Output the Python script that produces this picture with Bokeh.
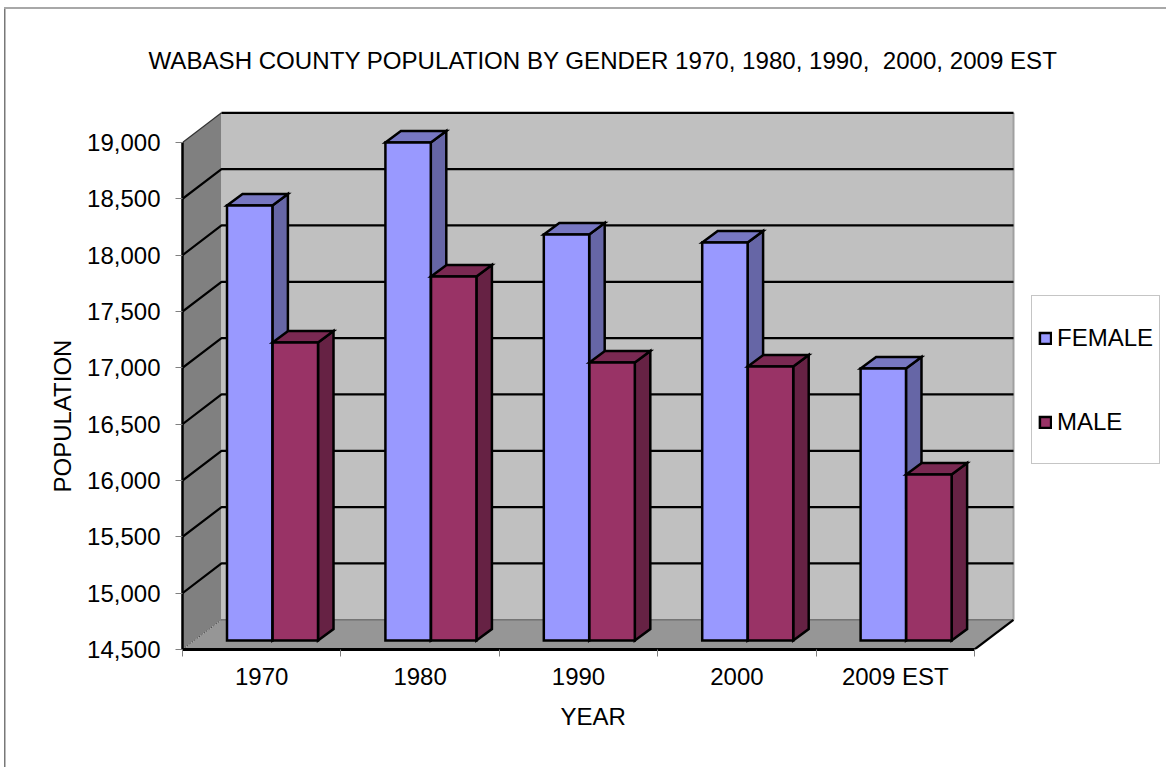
from bokeh.plotting import figure
from bokeh.models import (FixedTicker, NumeralTickFormatter, Legend, LegendItem, Title, Range1d)
from bokeh.embed import file_html
from bokeh.resources import INLINE

title_text = "WABASH COUNTY POPULATION BY GENDER 1970, 1980, 1990, \u00a02000, 2009 EST"
x_title = "YEAR"
y_title = "POPULATION"
categories = ["1970", "1980", "1990", "2000", "2009 EST"]
series_names = ["FEMALE", "MALE"]
female = [18361, 18920, 18103, 18032, 16914]
male = [17145, 17731, 16967, 16932, 15973]
y_ticks = [14500, 15000, 15500, 16000, 16500, 17000, 17500, 18000, 18500, 19000]

W, H = 1166, 767
LEFT, TOP, BOTTOM_Y = 182, 95, 649
CAT_PX = 158.4
PX_PER_UNIT = 507 / 4500
Y0 = y_ticks[0]
FONT = "Liberation Sans"

def dx(px):
    return px / CAT_PX
def dy(px):
    return px / PX_PER_UNIT

p = figure(width=W, height=H, output_backend="svg", toolbar_location=None,
           x_range=Range1d(0, (W - LEFT) / CAT_PX),
           y_range=Range1d(Y0, Y0 + (BOTTOM_Y - TOP) / PX_PER_UNIT),
           min_border_left=LEFT, min_border_right=0, min_border_top=TOP,
           min_border_bottom=H - BOTTOM_Y, outline_line_color=None,
           background_fill_color=None, border_fill_color=None)
p.grid.visible = False
# outer chart border (top and left edges only, as in the original)
p.styles = {"background":
            "linear-gradient(#A8A8A8,#A8A8A8) 4px 7px/100% 2px no-repeat,"
            "linear-gradient(#787878,#787878) 4px 7px/1.5px 100% no-repeat,white"}

n = len(categories)
top_tick, bot_tick = y_ticks[-1], y_ticks[0]
WALL_X, WALL_Y = dx(39), dy(29.7)

# side wall, back wall, floor
p.patch([0, WALL_X, WALL_X, 0], [bot_tick, bot_tick + WALL_Y, top_tick + WALL_Y, top_tick],
        fill_color="#808080", line_color=None)
p.patch([WALL_X, n + WALL_X, n + WALL_X, WALL_X],
        [bot_tick + WALL_Y, bot_tick + WALL_Y, top_tick + WALL_Y, top_tick + WALL_Y],
        fill_color="#C0C0C0", line_color=None)
p.patch([0, n, n + WALL_X, WALL_X], [bot_tick, bot_tick, bot_tick + WALL_Y, bot_tick + WALL_Y],
        fill_color="#969696", line_color=None)
p.line([WALL_X, n + WALL_X], [bot_tick + WALL_Y] * 2, line_color="#555555", line_width=1)
p.line([n + WALL_X, n + WALL_X], [bot_tick + WALL_Y, top_tick + WALL_Y], line_color="#A0A0A0", line_width=2)
p.line([0, WALL_X], [bot_tick, bot_tick + WALL_Y], line_color="#333333", line_width=1, line_dash="1 2")
p.line([n, n + WALL_X], [bot_tick, bot_tick + WALL_Y], line_color="black", line_width=2.2)

# gridlines on the walls
for t in y_ticks[1:-1]:
    p.line([0, WALL_X, n + WALL_X], [t, t + WALL_Y, t + WALL_Y], line_color="black", line_width=2.2)
p.line([0, WALL_X], [top_tick, top_tick + WALL_Y], line_color="#333333", line_width=1.2)
p.line([WALL_X, n + WALL_X], [top_tick + WALL_Y] * 2, line_color="black", line_width=2.2)

# bars
BAR_OFF = [0.281, 0.569]
BAR_W = 0.2865
BASE_Y = dy(9)
DEPTH_X, DEPTH_Y = dx(15.5), dy(11.5)

def draw_series(vals, off, front, side, top):
    lefts = [i + off for i in range(n)]
    rights = [l + BAR_W for l in lefts]
    tops = [v + BASE_Y for v in vals]
    bottom = Y0 + BASE_Y
    st = dict(line_color="black", line_width=2.5, line_join="miter")
    p.patches([[r, r + DEPTH_X, r + DEPTH_X, r] for r in rights],
              [[bottom, bottom + DEPTH_Y, t + DEPTH_Y, t] for t in tops], fill_color=side, **st)
    p.patches([[l, l + DEPTH_X, r + DEPTH_X, r] for l, r in zip(lefts, rights)],
              [[t, t + DEPTH_Y, t + DEPTH_Y, t] for t in tops], fill_color=top, **st)
    return p.quad(left=lefts, right=rights, bottom=[bottom] * n, top=tops, fill_color=front, **st)

FEMALE_COLOR, MALE_COLOR = "#9999FF", "#993366"
r_f = draw_series(female, BAR_OFF[0], FEMALE_COLOR, "#6666A6", "#7777C2")
r_m = draw_series(male, BAR_OFF[1], MALE_COLOR, "#662244", "#7A2952")

# axes
ya = p.yaxis[0]
ya.level = "overlay"
ya.ticker = FixedTicker(ticks=y_ticks)
ya.formatter = NumeralTickFormatter(format="0,0")
ya.bounds = (y_ticks[0], y_ticks[-1])
ya.axis_line_color = "black"
ya.axis_line_width = 2.5
ya.major_tick_in = 0
ya.major_tick_out = 7
ya.major_tick_line_color = "#808080"
ya.minor_tick_line_color = None
ya.major_label_text_font = FONT
ya.major_label_text_font_size = "24px"
ya.major_label_text_color = "black"
ya.major_label_standoff = 15

xa = p.xaxis[0]
xa.level = "overlay"
centers = [i + 0.5 for i in range(n)]
xa.ticker = FixedTicker(ticks=centers, minor_ticks=list(range(n + 1)))
xa.major_label_overrides = {c: lab for c, lab in zip(centers, categories)}
xa.bounds = (0, n)
xa.axis_line_color = "black"
xa.axis_line_width = 3
xa.major_tick_line_color = None
xa.major_tick_in = 0
xa.major_tick_out = 7
xa.minor_tick_in = 0
xa.minor_tick_out = 7
xa.minor_tick_line_color = "#808080"
xa.major_label_text_font = FONT
xa.major_label_text_font_size = "24px"
xa.major_label_text_color = "black"
xa.major_label_standoff = 6

# titles
def title(text, side, offset, standoff, size="24px"):
    p.add_layout(Title(text=text, align="left", offset=offset, standoff=standoff,
                       text_font=FONT, text_font_size=size, text_font_style="normal",
                       text_color="black"), side)

title(title_text, "above", 148 - LEFT, 44, size="24.1px")
title(x_title, "below", 560 - LEFT, 16)
title(y_title, "left", BOTTOM_Y - 492, 18)

legend = Legend(items=[LegendItem(label=series_names[0], renderers=[r_f]),
                       LegendItem(label=series_names[1], renderers=[r_m])],
                location=(1031 - LEFT, BOTTOM_Y - 464), orientation="vertical",
                border_line_color="#8C8C8C", border_line_width=1.5, background_fill_color="white",
                background_fill_alpha=1, label_text_font=FONT, label_text_font_size="24px",
                label_text_color="black", glyph_width=14, glyph_height=14,
                label_standoff=5, padding=6, spacing=13, label_height=71, margin=0)
p.add_layout(legend)

open("out.html", "w").write(file_html(p, INLINE))
